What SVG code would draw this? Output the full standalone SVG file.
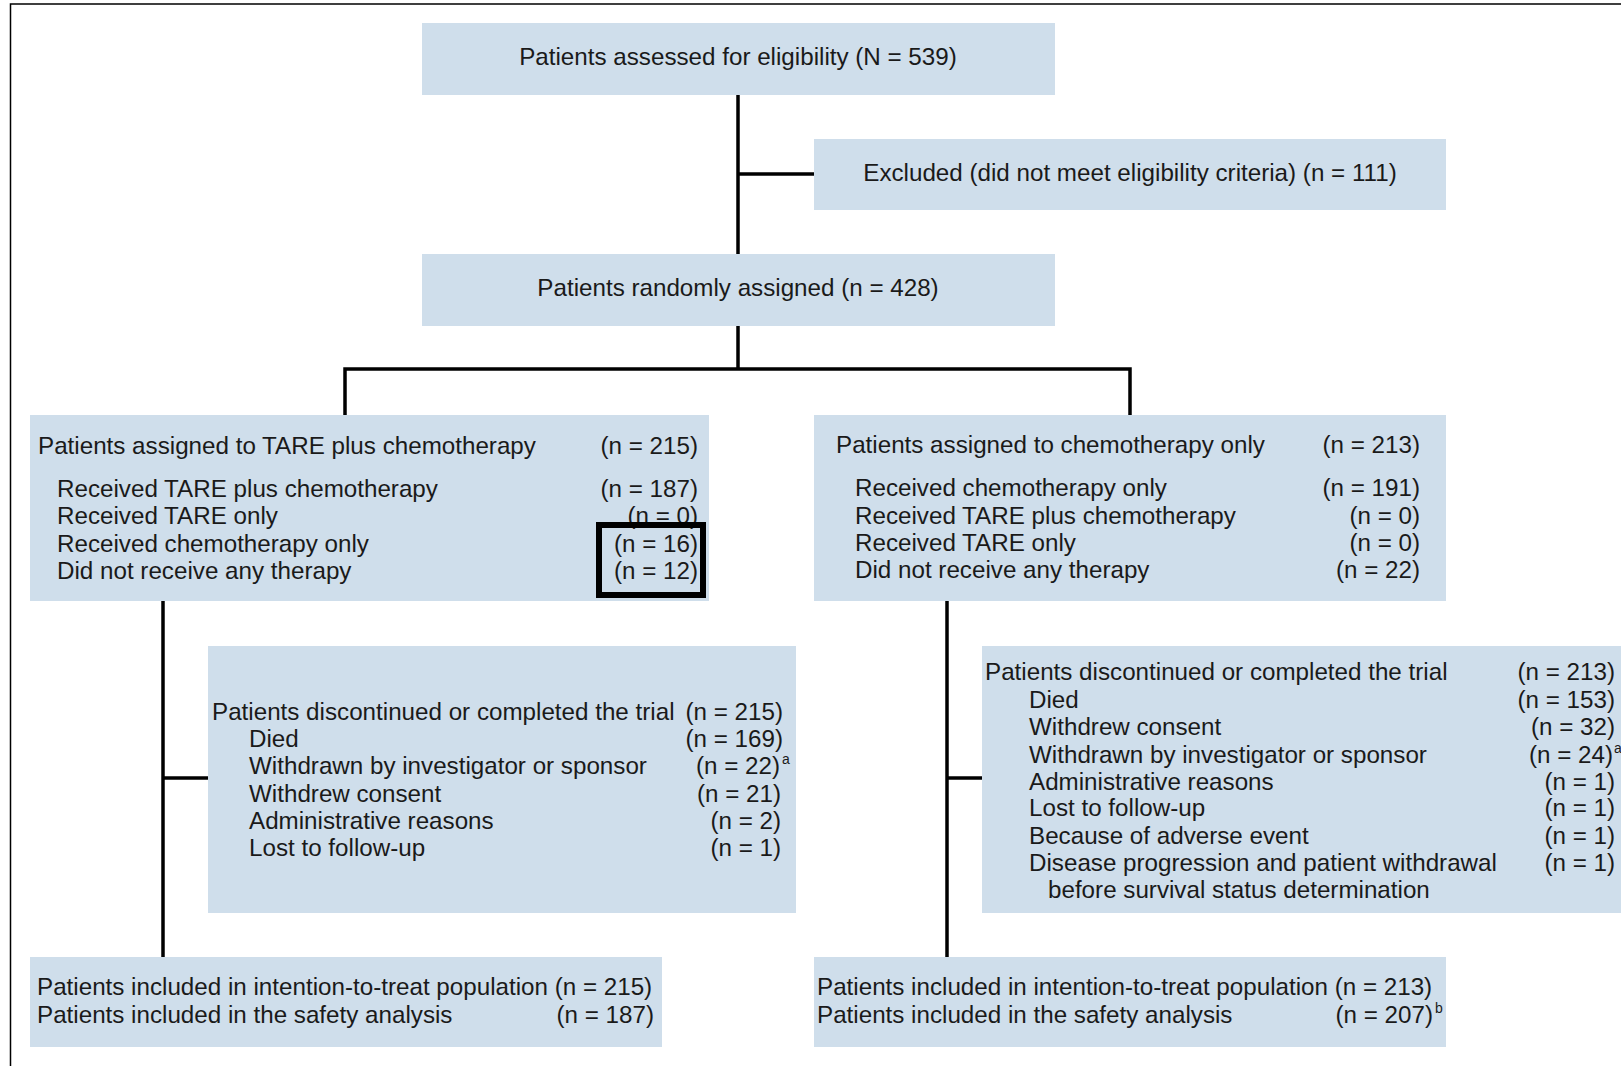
<svg xmlns="http://www.w3.org/2000/svg" width="1621" height="1066" viewBox="0 0 1621 1066">
<style>
.box{fill:#cfdeeb;}
text{font-family:"Liberation Sans",Arial,sans-serif;font-size:24.2px;fill:#1a1a1a;}
.e{text-anchor:end;}
.m{text-anchor:middle;}
.sup{font-size:14px;}
.ln{stroke:#000;stroke-width:3.5;fill:none;}
</style>
<rect width="1621" height="1066" fill="#fff"/>
<path d="M10.5,1066 V4 H1621" stroke="#000" stroke-width="1.5" fill="none"/>
<g id="connectors">
<path class="ln" d="M738,95 V254"/>
<path class="ln" d="M738,174 H814"/>
<path class="ln" d="M738,326 V369"/>
<path class="ln" d="M345,415 V369 H1130 V415"/>
<path class="ln" d="M163,601 V957"/>
<path class="ln" d="M163,778 H208"/>
<path class="ln" d="M947,601 V957"/>
<path class="ln" d="M947,778 H982"/>
</g>
<g id="assessed">
<rect class="box" x="422" y="23" width="633" height="72"/>
<text class="m" x="738" y="65">Patients assessed for eligibility (N = 539)</text>
</g>
<g id="excluded">
<rect class="box" x="814" y="139" width="632" height="71"/>
<text class="m" x="1130" y="181">Excluded (did not meet eligibility criteria) (n = 111)</text>
</g>
<g id="randomized">
<rect class="box" x="422" y="254" width="633" height="72"/>
<text class="m" x="738" y="296">Patients randomly assigned (n = 428)</text>
</g>
<g id="tare">
<rect class="box" x="30" y="415" width="679" height="186"/>
<text x="38" y="454">Patients assigned to TARE plus chemotherapy</text>
<text class="e" x="698" y="454">(n = 215)</text>
<text x="57" y="497">Received TARE plus chemotherapy</text>
<text class="e" x="698" y="497">(n = 187)</text>
<text x="57" y="524">Received TARE only</text>
<text class="e" x="698" y="524">(n = 0)</text>
<text x="57" y="552">Received chemotherapy only</text>
<text class="e" x="698" y="552">(n = 16)</text>
<text x="57" y="579">Did not receive any therapy</text>
<text class="e" x="698" y="579">(n = 12)</text>
<rect x="599" y="525" width="104" height="70" fill="none" stroke="#000" stroke-width="6"/>
</g>
<g id="chemo">
<rect class="box" x="814" y="415" width="632" height="186"/>
<text x="836" y="453">Patients assigned to chemotherapy only</text>
<text class="e" x="1420" y="453">(n = 213)</text>
<text x="855" y="496">Received chemotherapy only</text>
<text class="e" x="1420" y="496">(n = 191)</text>
<text x="855" y="524">Received TARE plus chemotherapy</text>
<text class="e" x="1420" y="524">(n = 0)</text>
<text x="855" y="551">Received TARE only</text>
<text class="e" x="1420" y="551">(n = 0)</text>
<text x="855" y="578">Did not receive any therapy</text>
<text class="e" x="1420" y="578">(n = 22)</text>
</g>
<g id="disc-left">
<rect class="box" x="208" y="646" width="588" height="267"/>
<text x="212" y="720">Patients discontinued or completed the trial</text>
<text class="e" x="783" y="720">(n = 215)</text>
<text x="249" y="747">Died</text>
<text class="e" x="783" y="747">(n = 169)</text>
<text x="249" y="774">Withdrawn by investigator or sponsor</text>
<text class="e" x="780" y="774">(n = 22)</text>
<text class="sup" x="782" y="764">a</text>
<text x="249" y="802">Withdrew consent</text>
<text class="e" x="781" y="802">(n = 21)</text>
<text x="249" y="829">Administrative reasons</text>
<text class="e" x="781" y="829">(n = 2)</text>
<text x="249" y="856">Lost to follow-up</text>
<text class="e" x="781" y="856">(n = 1)</text>
</g>
<g id="disc-right">
<rect class="box" x="982" y="646" width="650" height="267"/>
<text x="985" y="680">Patients discontinued or completed the trial</text>
<text class="e" x="1615" y="680">(n = 213)</text>
<text x="1029" y="708">Died</text>
<text class="e" x="1615" y="708">(n = 153)</text>
<text x="1029" y="735">Withdrew consent</text>
<text class="e" x="1615" y="735">(n = 32)</text>
<text x="1029" y="763">Withdrawn by investigator or sponsor</text>
<text class="e" x="1613" y="763">(n = 24)</text>
<text class="sup" x="1614" y="753">a</text>
<text x="1029" y="790">Administrative reasons</text>
<text class="e" x="1615" y="790">(n = 1)</text>
<text x="1029" y="816">Lost to follow-up</text>
<text class="e" x="1615" y="816">(n = 1)</text>
<text x="1029" y="844">Because of adverse event</text>
<text class="e" x="1615" y="844">(n = 1)</text>
<text x="1029" y="871">Disease progression and patient withdrawal</text>
<text class="e" x="1615" y="871">(n = 1)</text>
<text x="1048" y="898">before survival status determination</text>
</g>
<g id="itt-left">
<rect class="box" x="30" y="957" width="632" height="90"/>
<text x="37" y="995">Patients included in intention-to-treat population (n = 215)</text>
<text x="37" y="1023">Patients included in the safety analysis</text>
<text class="e" x="654" y="1023">(n = 187)</text>
</g>
<g id="itt-right">
<rect class="box" x="814" y="957" width="632" height="90"/>
<text x="817" y="995">Patients included in intention-to-treat population (n = 213)</text>
<text x="817" y="1023">Patients included in the safety analysis</text>
<text class="e" x="1433" y="1023">(n = 207)</text>
<text class="sup" x="1435" y="1013">b</text>
</g>
</svg>
